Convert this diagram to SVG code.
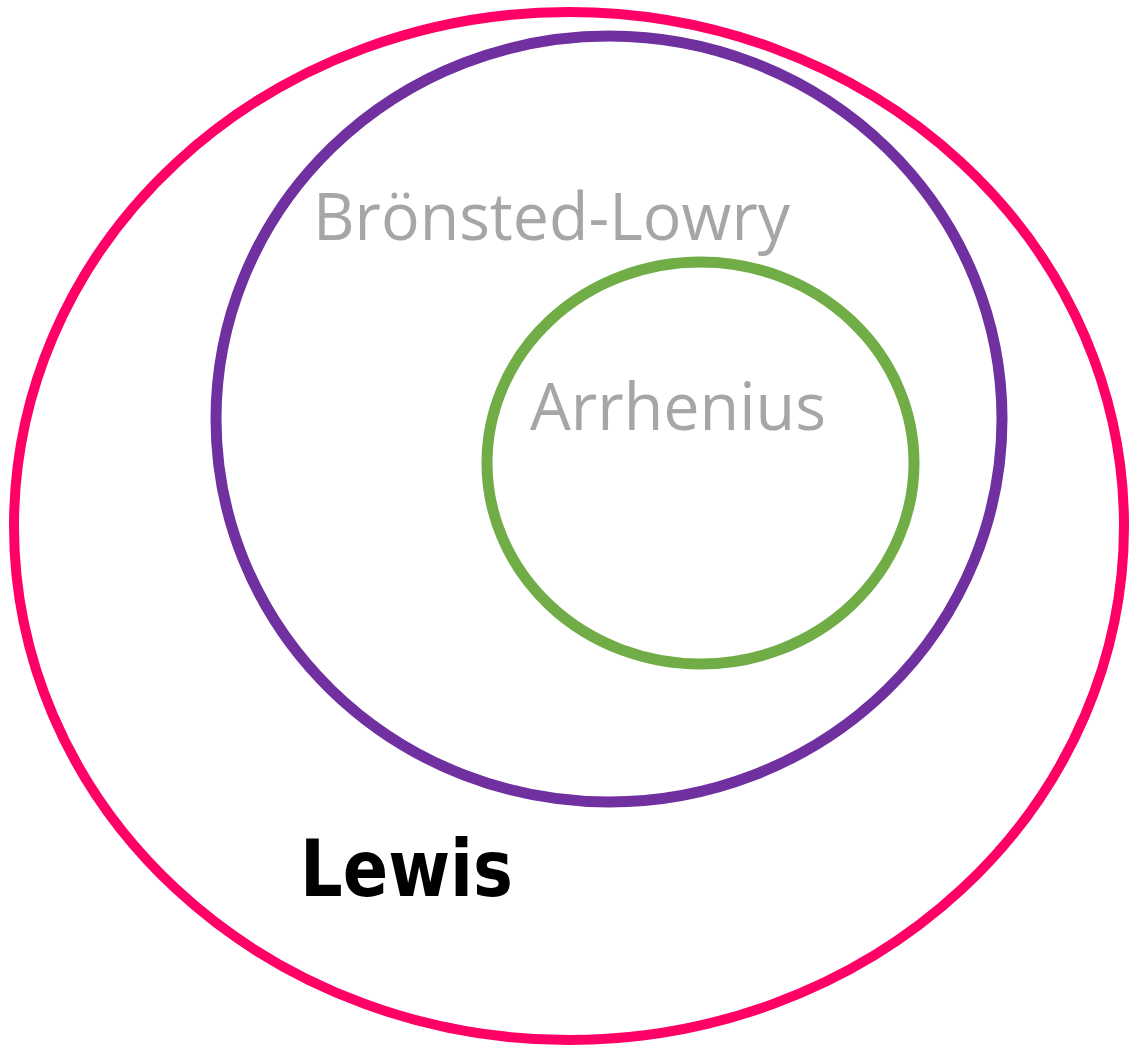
<svg xmlns="http://www.w3.org/2000/svg" width="1130" height="1046" viewBox="0 0 1130 1046">
<style>
.ring{fill:none}
.lbl{font-family:"Open Sans","Noto Sans",sans-serif;font-size:66px;fill:#A6A6A6}
.bold{font-family:"DejaVu Sans",Verdana,sans-serif;font-weight:bold;font-size:78px;fill:#000}
</style>
<rect width="1130" height="1046" fill="#fff"/>
<g id="lewis">
<ellipse class="ring" cx="569" cy="526" rx="555" ry="514" stroke="#FF0066" stroke-width="10"/>
<text class="bold" x="300" y="896" textLength="213" lengthAdjust="spacingAndGlyphs">Lewis</text>
</g>
<g id="bronsted">
<ellipse class="ring" cx="609" cy="419" rx="393" ry="383" stroke="#7030A0" stroke-width="11"/>
<text class="lbl" x="313" y="240" textLength="477" lengthAdjust="spacingAndGlyphs">Brönsted-Lowry</text>
</g>
<g id="arrhenius">
<ellipse class="ring" cx="700.5" cy="463" rx="213.5" ry="201" stroke="#70AD47" stroke-width="11"/>
<text class="lbl" x="530" y="430" textLength="296" lengthAdjust="spacingAndGlyphs">Arrhenius</text>
</g>
<g id="connectors"/>
</svg>
